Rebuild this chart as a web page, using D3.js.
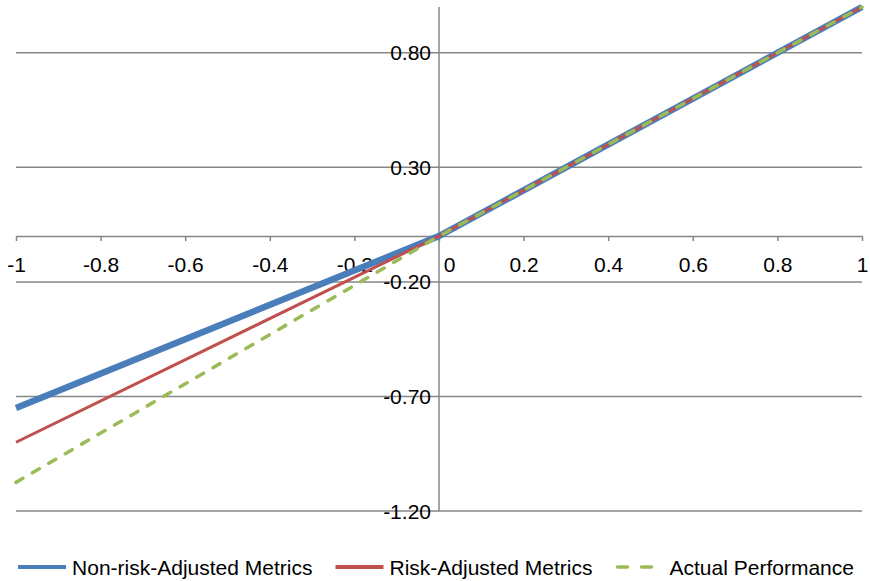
<!DOCTYPE html>
<html>
<head>
<meta charset="utf-8">
<script src="https://cdn.jsdelivr.net/npm/d3@7"></script>
<style>
  body { margin: 0; background: #fff; }
  svg text { font-family: "Liberation Sans", Arial, sans-serif; fill: #000; }
</style>
</head>
<body>
<div id="chart"></div>
<script>
// x values where each series has a point
const xs = [-1, 0, 1];
// series values
const nonRiskAdjusted = [-0.75, 0, 1];
const riskAdjusted = [-0.9, 0, 1];
const actualPerformance = [-1.075, 0, 1];

const seriesNames = ["Non-risk-Adjusted Metrics", "Risk-Adjusted Metrics", "Actual Performance"];
const xTicks = [-1, -0.8, -0.6, -0.4, -0.2, 0, 0.2, 0.4, 0.6, 0.8, 1];
const yTicks = [-1.2, -0.7, -0.2, 0.3, 0.8];

const width = 870;
const height = 581;
const margin = { top: 7, right: 8, bottom: 70, left: 16 };
const fontSize = 21;

const styles = [
  { color: "#4a7ebb", width: 6.5, dash: null },
  { color: "#c0504d", width: 3, dash: null },
  { color: "#9bbb59", width: 3.5, dash: "8,11" },
];

const series = [nonRiskAdjusted, riskAdjusted, actualPerformance].map((vals, i) => ({
  name: seriesNames[i],
  values: xs.map((x, j) => ({ x, y: vals[j] })),
  style: styles[i],
}));

const x = d3.scaleLinear().domain([-1, 1]).range([margin.left, width - margin.right]);
const y = d3.scaleLinear().domain([-1.2, 1]).range([height - margin.bottom, margin.top]);

const svg = d3.select("#chart").append("svg")
  .attr("width", width)
  .attr("height", height);

// horizontal gridlines
svg.append("g")
  .selectAll("line")
  .data(yTicks)
  .join("line")
  .attr("x1", x(-1))
  .attr("x2", x(1))
  .attr("y1", (d) => y(d))
  .attr("y2", (d) => y(d))
  .attr("stroke", "#868686")
  .attr("stroke-width", 1.5);

// y axis line through x = 0
svg.append("line")
  .attr("x1", x(0)).attr("x2", x(0))
  .attr("y1", y(1)).attr("y2", y(-1.2))
  .attr("stroke", "#868686")
  .attr("stroke-width", 1.5);

// x axis through y = 0
const xAxis = svg.append("g")
  .attr("transform", `translate(0,${y(0)})`)
  .call(d3.axisBottom(x).tickValues(xTicks).tickFormat((d) => String(d)).tickSizeInner(5).tickSizeOuter(0).tickPadding(16));
xAxis.select(".domain").attr("stroke", "#868686").attr("stroke-width", 1.5);
xAxis.selectAll(".tick line").attr("stroke", "#868686").attr("stroke-width", 1.5);
xAxis.selectAll(".tick text").attr("font-size", fontSize).attr("fill", "#000")
  .style("font-family", '"Liberation Sans", Arial, sans-serif');
// the 0 label sits just right of the y axis line
xAxis.selectAll(".tick text").filter((d) => d === 0).attr("dx", 10);

// y labels, next to the axis, centred on gridlines
svg.append("g")
  .selectAll("text")
  .data(yTicks)
  .join("text")
  .attr("x", x(0) - 8)
  .attr("y", (d) => y(d))
  .attr("dy", "0.36em")
  .attr("text-anchor", "end")
  .attr("font-size", fontSize)
  .text((d) => d.toFixed(2));

// lines
const line = d3.line().x((d) => x(d.x)).y((d) => y(d.y));
svg.append("g")
  .selectAll("path")
  .data(series)
  .join("path")
  .attr("fill", "none")
  .attr("stroke", (d) => d.style.color)
  .attr("stroke-width", (d) => d.style.width)
  .attr("stroke-dasharray", (d) => d.style.dash)
  .attr("stroke-linecap", (d) => (d.style.dash ? "round" : "butt"))
  .attr("d", (d) => line(d.values));

// legend
const legend = svg.append("g").attr("transform", `translate(0,${567})`);
const items = legend.selectAll("g")
  .data(series)
  .join("g");
items.append("line")
  .attr("x1", 0).attr("x2", 48)
  .attr("y1", 0).attr("y2", 0)
  .attr("stroke", (d) => d.style.color)
  .attr("stroke-width", (d) => (d.style.dash ? 3.5 : 4))
  .attr("stroke-dasharray", (d) => (d.style.dash ? "10,14" : null))
  .attr("stroke-linecap", (d) => (d.style.dash ? "round" : "butt"))
  .attr("transform", (d) => (d.style.dash ? "translate(2,0)" : null));
items.append("text")
  .attr("x", 54)
  .attr("dy", "0.36em")
  .attr("font-size", fontSize)
  .text((d) => d.name);

const gap = 23;
const widths = [];
items.each(function () {
  widths.push(d3.select(this).select("text").node().getComputedTextLength() + 54);
});
const total = d3.sum(widths) + gap * (widths.length - 1);
let offset = 436 - total / 2;
items.attr("transform", (d, i) => {
  const t = `translate(${offset},0)`;
  offset += widths[i] + gap;
  return t;
});
</script>
</body>
</html>
